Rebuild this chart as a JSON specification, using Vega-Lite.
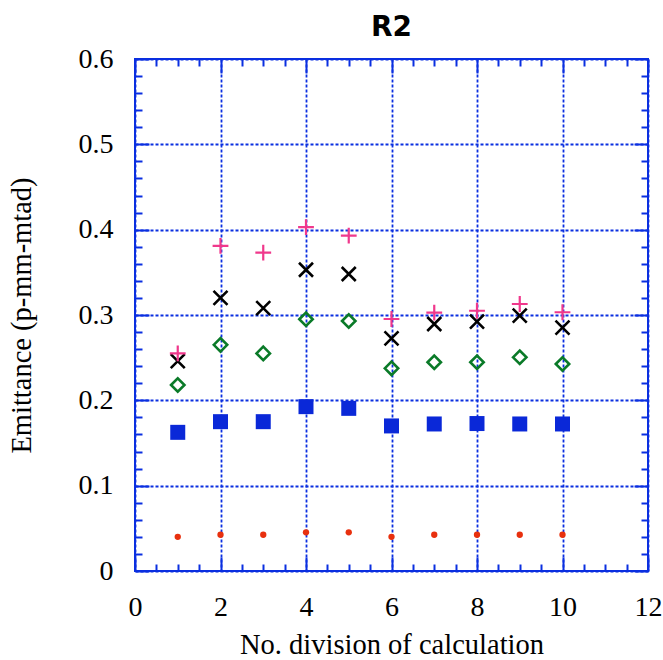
{
  "$schema": "https://vega.github.io/schema/vega-lite/v6.json",
  "width": 513,
  "height": 512,
  "autosize": {"type": "none"},
  "padding": {"left": 135, "top": 59, "right": 15, "bottom": 89},
  "background": "white",
  "title": {"text": "R2", "font": "DejaVu Sans", "fontSize": 28, "fontWeight": "bold", "color": "black", "anchor": "middle", "baseline": "alphabetic", "offset": 26, "dy": 45},
  "config": {
    "view": {"stroke": "#0a2fe0", "strokeWidth": 2},
    "axis": {"domain": false, "tickColor": "#0a2fe0", "gridColor": "#0a2fe0", "labelFont": "Liberation Serif", "titleFont": "Liberation Serif", "labelFontSize": 28, "titleFontSize": 28.5, "labelColor": "black", "titleColor": "black", "titleFontWeight": "normal", "labelFlush": false, "labelOverlap": false}
  },
  "data": {"values": [
    {"x": 1, "y": 0.040, "series": "dot"},
    {"x": 2, "y": 0.0425, "series": "dot"},
    {"x": 3, "y": 0.0425, "series": "dot"},
    {"x": 4, "y": 0.0453, "series": "dot"},
    {"x": 5, "y": 0.0453, "series": "dot"},
    {"x": 6, "y": 0.040, "series": "dot"},
    {"x": 7, "y": 0.0425, "series": "dot"},
    {"x": 8, "y": 0.0425, "series": "dot"},
    {"x": 9, "y": 0.0425, "series": "dot"},
    {"x": 10, "y": 0.0425, "series": "dot"},
    {"x": 1, "y": 0.1625, "series": "square"},
    {"x": 2, "y": 0.175, "series": "square"},
    {"x": 3, "y": 0.175, "series": "square"},
    {"x": 4, "y": 0.1926, "series": "square"},
    {"x": 5, "y": 0.1906, "series": "square"},
    {"x": 6, "y": 0.170, "series": "square"},
    {"x": 7, "y": 0.1723, "series": "square"},
    {"x": 8, "y": 0.1728, "series": "square"},
    {"x": 9, "y": 0.1723, "series": "square"},
    {"x": 10, "y": 0.1723, "series": "square"},
    {"x": 1, "y": 0.218, "series": "diamond"},
    {"x": 2, "y": 0.265, "series": "diamond"},
    {"x": 3, "y": 0.255, "series": "diamond"},
    {"x": 4, "y": 0.295, "series": "diamond"},
    {"x": 5, "y": 0.293, "series": "diamond"},
    {"x": 6, "y": 0.2375, "series": "diamond"},
    {"x": 7, "y": 0.2446, "series": "diamond"},
    {"x": 8, "y": 0.2446, "series": "diamond"},
    {"x": 9, "y": 0.2504, "series": "diamond"},
    {"x": 10, "y": 0.2426, "series": "diamond"},
    {"x": 1, "y": 0.246, "series": "cross"},
    {"x": 2, "y": 0.320, "series": "cross"},
    {"x": 3, "y": 0.308, "series": "cross"},
    {"x": 4, "y": 0.353, "series": "cross"},
    {"x": 5, "y": 0.348, "series": "cross"},
    {"x": 6, "y": 0.2727, "series": "cross"},
    {"x": 7, "y": 0.2895, "series": "cross"},
    {"x": 8, "y": 0.2922, "series": "cross"},
    {"x": 9, "y": 0.2992, "series": "cross"},
    {"x": 10, "y": 0.2852, "series": "cross"},
    {"x": 1, "y": 0.255, "series": "plus"},
    {"x": 2, "y": 0.381, "series": "plus"},
    {"x": 3, "y": 0.373, "series": "plus"},
    {"x": 4, "y": 0.403, "series": "plus"},
    {"x": 5, "y": 0.393, "series": "plus"},
    {"x": 6, "y": 0.2953, "series": "plus"},
    {"x": 7, "y": 0.3027, "series": "plus"},
    {"x": 8, "y": 0.305, "series": "plus"},
    {"x": 9, "y": 0.3129, "series": "plus"},
    {"x": 10, "y": 0.3032, "series": "plus"}
  ]},
  "layer": [
    {
      "transform": [{"filter": "datum.series === 'dot'"}],
      "mark": {"type": "point", "shape": "circle", "filled": true, "color": "#e8300e", "size": 40, "opacity": 1},
      "encoding": {
        "x": {"field": "x", "type": "quantitative", "scale": {"domain": [0, 12], "nice": false, "zero": false},
          "axis": {"orient": "bottom", "values": [0, 2, 4, 6, 8, 10, 12], "format": "d", "tickSize": -14, "tickWidth": 2, "labelPadding": 36, "grid": true, "gridDash": [3, 2], "gridWidth": 1.8, "title": "No. division of calculation", "titlePadding": 9}},
        "y": {"field": "y", "type": "quantitative", "scale": {"domain": [0, 0.6], "nice": false, "zero": false},
          "axis": {"orient": "left", "values": [0, 0.1, 0.2, 0.3, 0.4, 0.5, 0.6], "format": ".1~f", "tickSize": -14, "tickWidth": 2, "labelPadding": 36, "grid": true, "gridDash": [3, 2], "gridWidth": 1.8, "title": "Emittance (p-mm-mtad)", "titlePadding": 42}}
      }
    },
    {
      "transform": [{"filter": "datum.series === 'square'"}],
      "mark": {"type": "point", "shape": "square", "filled": true, "color": "#0a28d8", "size": 225, "opacity": 1},
      "encoding": {
        "x": {"field": "x", "type": "quantitative",
          "axis": {"orient": "bottom", "values": [0.5, 1, 1.5, 2.5, 3, 3.5, 4.5, 5, 5.5, 6.5, 7, 7.5, 8.5, 9, 9.5, 10.5, 11, 11.5], "tickSize": -7, "tickWidth": 2, "labels": false, "grid": false, "title": null}},
        "y": {"field": "y", "type": "quantitative",
          "axis": {"orient": "left", "values": [0.02, 0.04, 0.06, 0.08, 0.12, 0.14, 0.16, 0.18, 0.22, 0.24, 0.26, 0.28, 0.32, 0.34, 0.36, 0.38, 0.42, 0.44, 0.46, 0.48, 0.52, 0.54, 0.56, 0.58], "tickSize": -7, "tickWidth": 2, "labels": false, "grid": false, "title": null}}
      }
    },
    {
      "transform": [{"filter": "datum.series === 'diamond'"}],
      "mark": {"type": "point", "shape": "diamond", "filled": false, "color": "#0a7a28", "size": 180, "strokeWidth": 2.6, "opacity": 1},
      "encoding": {
        "x": {"field": "x", "type": "quantitative",
          "axis": {"orient": "top", "values": [0, 2, 4, 6, 8, 10, 12], "tickSize": -14, "tickWidth": 2, "labels": false, "grid": false, "title": null}},
        "y": {"field": "y", "type": "quantitative",
          "axis": {"orient": "right", "values": [0, 0.1, 0.2, 0.3, 0.4, 0.5, 0.6], "tickSize": -14, "tickWidth": 2, "labels": false, "grid": false, "title": null}}
      }
    },
    {
      "transform": [{"filter": "datum.series === 'cross'"}],
      "mark": {"type": "point", "shape": "M-1,-1L1,1M-1,1L1,-1", "filled": false, "color": "black", "size": 196, "strokeWidth": 2.6, "opacity": 1},
      "encoding": {
        "x": {"field": "x", "type": "quantitative",
          "axis": {"orient": "top", "values": [0.5, 1, 1.5, 2.5, 3, 3.5, 4.5, 5, 5.5, 6.5, 7, 7.5, 8.5, 9, 9.5, 10.5, 11, 11.5], "tickSize": -7, "tickWidth": 2, "labels": false, "grid": false, "title": null}},
        "y": {"field": "y", "type": "quantitative",
          "axis": {"orient": "right", "values": [0.02, 0.04, 0.06, 0.08, 0.12, 0.14, 0.16, 0.18, 0.22, 0.24, 0.26, 0.28, 0.32, 0.34, 0.36, 0.38, 0.42, 0.44, 0.46, 0.48, 0.52, 0.54, 0.56, 0.58], "tickSize": -7, "tickWidth": 2, "labels": false, "grid": false, "title": null}}
      }
    },
    {
      "transform": [{"filter": "datum.series === 'plus'"}],
      "mark": {"type": "point", "shape": "M-1,0L1,0M0,-1L0,1", "filled": false, "color": "#f0388c", "size": 250, "strokeWidth": 2.2, "opacity": 1},
      "encoding": {
        "x": {"field": "x", "type": "quantitative", "axis": null},
        "y": {"field": "y", "type": "quantitative", "axis": null}
      }
    }
  ],
  "resolve": {"axis": {"x": "independent", "y": "independent"}}
}
